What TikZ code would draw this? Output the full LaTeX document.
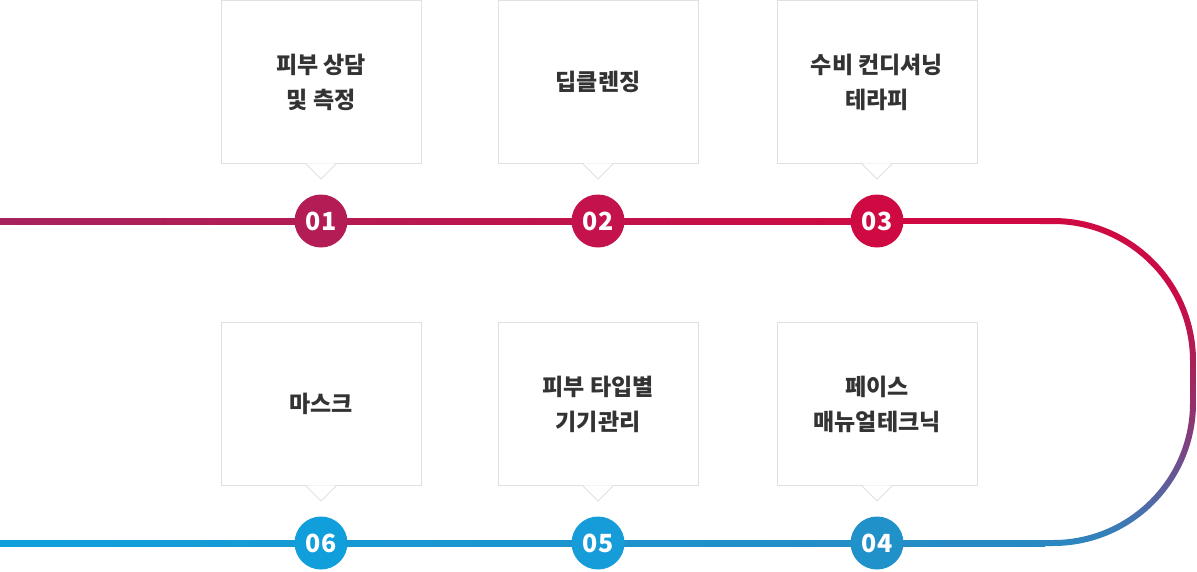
\documentclass[tikz,border=0pt]{standalone}
\usepackage{fontspec}
\newfontfamily\krfont{Noto Sans CJK KR}
\usetikzlibrary{calc}
\definecolor{boxgray}{HTML}{E0E0E0}
\definecolor{textgray}{HTML}{333333}
\definecolor{topL}{HTML}{A6235D}
\definecolor{topR}{HTML}{CF0A42}
\definecolor{botL}{HTML}{0FA0DC}
\definecolor{botR}{HTML}{2889C3}
\definecolor{cA}{HTML}{B31C55}
\definecolor{cB}{HTML}{C4124D}
\definecolor{cC}{HTML}{CF0A43}
\definecolor{cD}{HTML}{2191C9}
\definecolor{cE}{HTML}{169CD8}
\definecolor{cF}{HTML}{119FDB}
\definecolor{cb0}{HTML}{2889C3}
\definecolor{cb1}{HTML}{4A70AA}
\definecolor{cb2}{HTML}{7A4585}
\definecolor{cb3}{HTML}{A3255E}
\definecolor{cb4}{HTML}{C80C47}
\definecolor{cb5}{HTML}{CF0A42}
\pgfdeclareverticalshading{curveshade}{100bp}{color(0bp)=(cb0); color(25bp)=(cb0); color(30.5bp)=(cb1); color(39.5bp)=(cb2); color(50.5bp)=(cb3); color(62.5bp)=(cb4); color(75bp)=(cb5); color(100bp)=(cb5)}
\begin{document}
\begin{tikzpicture}[x=1pt,y=-1pt,
  box/.style={draw=boxgray, line width=1pt, fill=white, minimum width=200pt, minimum height=163pt,
    inner sep=0pt, align=center, font=\krfont\bfseries\fontsize{23}{35}\selectfont, text=textgray},
  num/.style={circle, minimum size=53pt, inner sep=0pt,
    font=\krfont\bfseries\fontsize{25}{25}\selectfont, text=white},
  tipfill/.style={fill=white},
  tipline/.style={draw=boxgray, line width=1pt}]
\useasboundingbox (0,0) rectangle (1197,571);

% lines
\shade[left color=topL, right color=topR] (0,218) rectangle (900,224);
\fill[topR] (899,218) rectangle (1045,224);
\shade[left color=botL, right color=botR] (0,540) rectangle (1045,546);
\begin{scope}
  \clip (1040,200) rectangle (1197,560);
  \shade[shading=curveshade, even odd rule]
    [rounded corners=143pt] (700,218) -- (1196,218) -- (1196,546) -- (700,546) -- cycle
    [rounded corners=137pt] (700,224) -- (1190,224) -- (1190,540) -- (700,540) -- cycle;
\end{scope}

% boxes
\node[box] (b1) at (321,82) {피부 상담\\및 측정};
\node[box] (b2) at (598,82) {딥클렌징};
\node[box] (b3) at (877,82) {수비 컨디셔닝\\테라피};
\node[box] (b4) at (877,404) {페이스\\매뉴얼테크닉};
\node[box] (b5) at (598,404) {피부 타입별\\기기관리};
\node[box] (b6) at (321,404) {마스크};

\foreach \b in {b1,b2,b3,b4,b5,b6}{
  \fill[tipfill] ($(\b.south)+(-14.5,-0.7)$) -- ($(\b.south)+(0,14.5)$) -- ($(\b.south)+(14.5,-0.7)$) -- cycle;
  \draw[tipline] ($(\b.south)+(-15,0)$) -- ($(\b.south)+(0,15)$) -- ($(\b.south)+(15,0)$);
}

% circles
\node[num, fill=cA] (n1) at (321,221) {01};
\node[num, fill=cB] (n2) at (598,221) {02};
\node[num, fill=cC] (n3) at (877,221) {03};
\node[num, fill=cD] (n4) at (877,543) {04};
\node[num, fill=cE] (n5) at (598,543) {05};
\node[num, fill=cF] (n6) at (321,543) {06};
\end{tikzpicture}
\end{document}
